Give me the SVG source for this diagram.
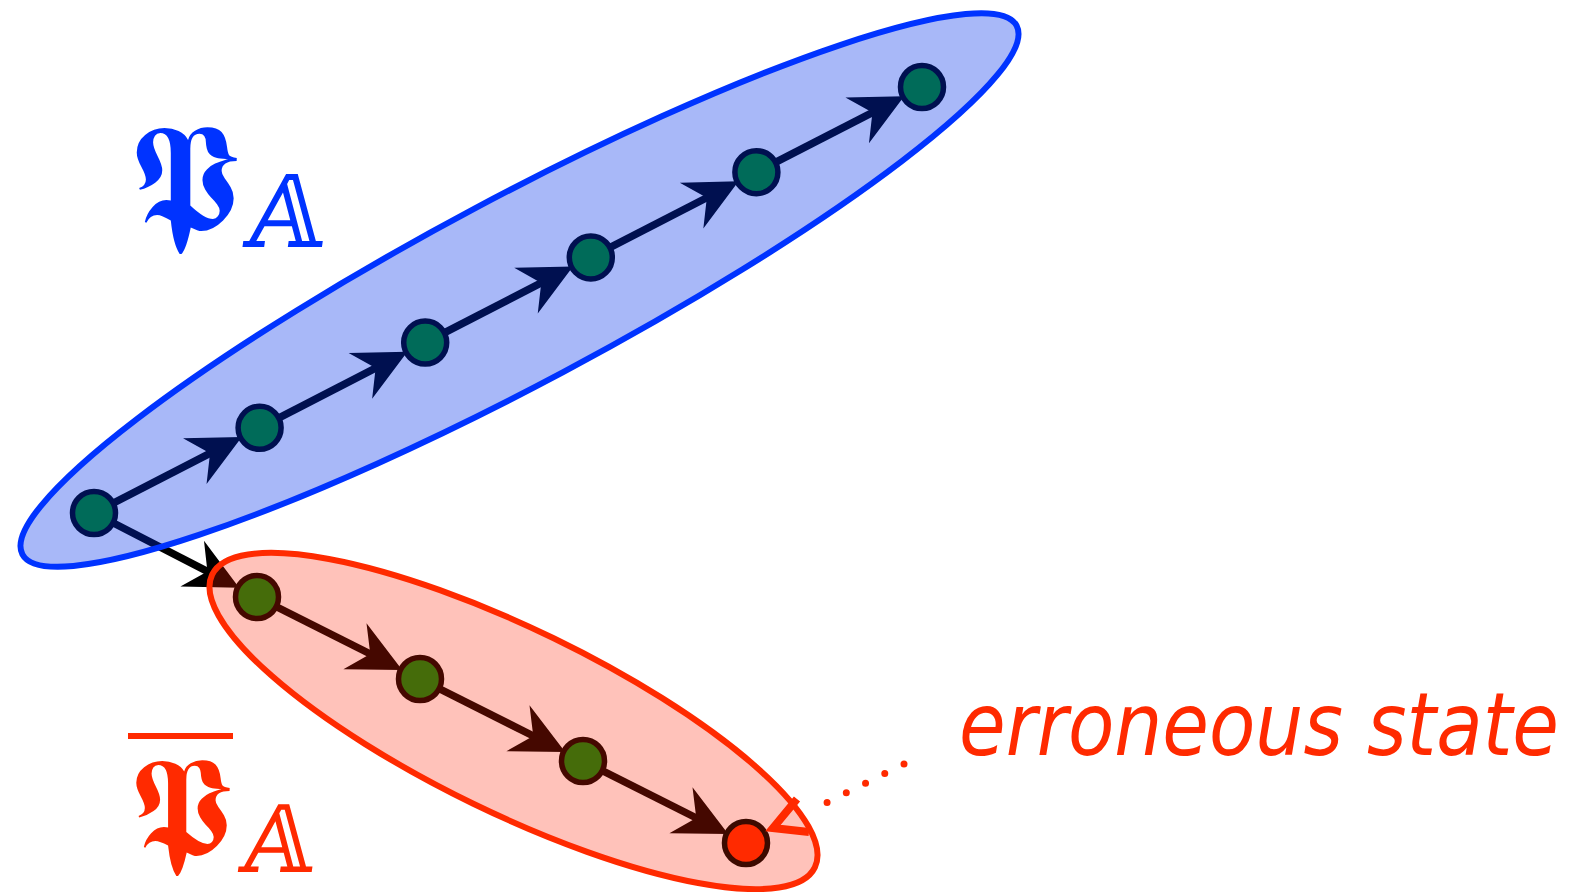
<svg xmlns="http://www.w3.org/2000/svg" width="1577" height="892" viewBox="0 0 1577 892">
<defs>
<marker id="ah" markerUnits="userSpaceOnUse" orient="auto" refX="-14" refY="0" markerWidth="60" markerHeight="60" viewBox="-40 -20 42 40" overflow="visible">
<path d="M0,0 L-37,-18 L-25,0 L-37,18 Z" fill="#000"/>
</marker>
<style>
.edge{stroke:#000;stroke-width:7.5;fill:none;marker-end:url(#ah)}
.st{fill:#008a0f;stroke:#000;stroke-width:5.5}
.err{fill:#ff2a00;stroke:#3c0a00;stroke-width:5.5}
.blueset{fill:rgb(0,47,235);fill-opacity:0.34;stroke:#0033ff;stroke-width:6}
.redset{fill:rgb(255,30,0);fill-opacity:0.27;stroke:#ff2a00;stroke-width:6}
.frak{font-family:'DejaVu Serif','DejaVu Sans','Noto Sans',serif}
.lbl{font-family:'DejaVu Sans','Liberation Sans',sans-serif;font-stretch:condensed;font-style:italic;fill:#ff2a00}
</style>
</defs>
<g id="connectors">
<line class="edge" x1="94" y1="513" x2="224.0" y2="446.1"/>
<line class="edge" x1="259.6" y1="427.8" x2="389.6" y2="360.9"/>
<line class="edge" x1="425.2" y1="342.6" x2="555.2" y2="275.7"/>
<line class="edge" x1="590.8" y1="257.4" x2="720.8" y2="190.5"/>
<line class="edge" x1="756.4" y1="172.2" x2="886.4" y2="105.3"/>
<line class="edge" x1="94" y1="513" x2="221.4" y2="578.7"/>
<line class="edge" x1="257" y1="597" x2="384.3" y2="661.0"/>
<line class="edge" x1="420" y1="679" x2="547.3" y2="743.0"/>
<line class="edge" x1="583" y1="761" x2="710.3" y2="825.0"/>
</g>
<g id="nodes">
<circle id="b0" class="st" cx="94" cy="513" r="21.5"/>
<circle id="b1" class="st" cx="259.6" cy="427.8" r="21.5"/>
<circle id="b2" class="st" cx="425.2" cy="342.6" r="21.5"/>
<circle id="b3" class="st" cx="590.8" cy="257.4" r="21.5"/>
<circle id="b4" class="st" cx="756.4" cy="172.2" r="21.5"/>
<circle id="b5" class="st" cx="922" cy="87" r="21.5"/>
<circle id="r0" class="st" cx="257" cy="597" r="21.5"/>
<circle id="r1" class="st" cx="420" cy="679" r="21.5"/>
<circle id="r2" class="st" cx="583" cy="761" r="21.5"/>
</g>
<g id="set-PA">
<ellipse class="blueset" cx="519.5" cy="290" rx="563" ry="93" transform="rotate(-28 519.5 290)"/>
</g>
<g id="set-PA-bar">
<ellipse class="redset" cx="513.5" cy="721" rx="335" ry="92" transform="rotate(25.9 513.5 721)"/>
</g>
<g id="error-node">
<circle id="r3" class="err" cx="746" cy="843" r="21.5"/>
</g>
<g id="pointer">
<line x1="904" y1="764" x2="818" y2="807" stroke="#ff2a00" stroke-width="7" stroke-linecap="round" stroke-dasharray="0 21.5"/>
<polyline points="797,799 773,828 809,832" fill="none" stroke="#ff2a00" stroke-width="8" stroke-linejoin="miter"/>
</g>
<g id="label-PA" fill="#0033ff">
<text class="frak" x="130" y="230" font-size="150">𝕻</text>
<text class="frak" x="248" y="247" font-size="100" transform="skewX(-8)" dx="30">𝔸</text>
</g>
<g id="label-PA-bar" fill="#ff2a00">
<rect x="128" y="733" width="105" height="6"/>
<text class="frak" x="130" y="855" font-size="140">𝕻</text>
<text class="frak" x="240" y="872" font-size="93" transform="skewX(-8)" dx="121">𝔸</text>
</g>
<g id="label-err">
<text class="lbl" x="959" y="755" font-size="87" textLength="600" lengthAdjust="spacingAndGlyphs">erroneous state</text>
</g>
</svg>
